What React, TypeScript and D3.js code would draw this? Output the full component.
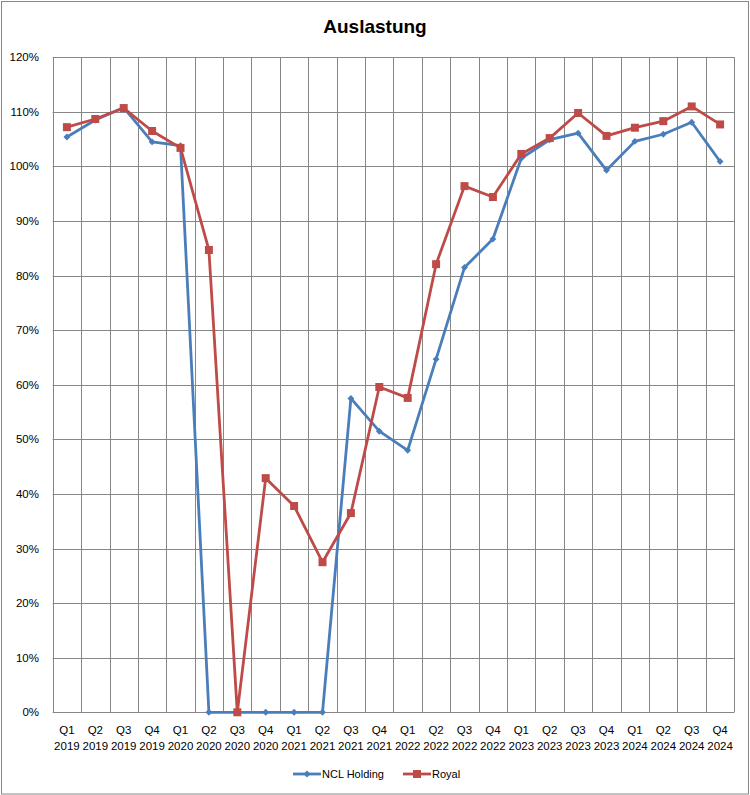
import React, { useEffect, useRef } from 'react';
import * as d3 from 'd3';

// quarters on the x axis
const quarters = [
  'Q1 2019', 'Q2 2019', 'Q3 2019', 'Q4 2019',
  'Q1 2020', 'Q2 2020', 'Q3 2020', 'Q4 2020',
  'Q1 2021', 'Q2 2021', 'Q3 2021', 'Q4 2021',
  'Q1 2022', 'Q2 2022', 'Q3 2022', 'Q4 2022',
  'Q1 2023', 'Q2 2023', 'Q3 2023', 'Q4 2023',
  'Q1 2024', 'Q2 2024', 'Q3 2024', 'Q4 2024',
];

// occupancy in percent
const nclValues = [
  105.4, 108.5, 110.8, 104.5, 103.8, 0, 0, 0, 0, 0, 57.5, 51.5,
  48.0, 64.7, 81.5, 86.7, 101.5, 104.9, 106.1, 99.3, 104.6, 105.9, 108.1, 100.9,
];
const royalValues = [
  107.2, 108.7, 110.7, 106.5, 103.4, 84.7, 0, 42.9, 37.8, 27.5, 36.5, 59.6,
  57.6, 82.1, 96.4, 94.4, 102.3, 105.2, 109.8, 105.6, 107.1, 108.3, 111.0, 107.7,
];

const yTicks = [0, 10, 20, 30, 40, 50, 60, 70, 80, 90, 100, 110, 120];

const W = 750;
const H = 795;
const margin = { left: 52.7, right: 734.3, top: 57.3, bottom: 712.3 };
const font = '"Liberation Sans", Arial, sans-serif';
const BLUE = '#4A7EBB';
const RED = '#BE4B48';
const GRID = '#868686';

export default function App() {
  const ref = useRef<SVGSVGElement>(null);

  useEffect(() => {
    document.body.style.margin = '0';
    const svg = d3.select(ref.current);
    svg.selectAll('*').remove();

    const x = d3.scaleBand<string>().domain(quarters).range([margin.left, margin.right]);
    const y = d3.scaleLinear().domain([0, 120]).range([margin.bottom, margin.top]);

    svg.append('rect')
      .attr('x', 1.5).attr('y', 1.5)
      .attr('width', W - 3).attr('height', H - 2.5)
      .attr('fill', '#fff').attr('stroke', GRID).attr('stroke-width', 1);

    svg.append('text')
      .attr('x', W / 2).attr('y', 33)
      .attr('text-anchor', 'middle')
      .attr('font-family', font).attr('font-weight', 'bold').attr('font-size', 19)
      .text('Auslastung');

    // grid
    const grid = svg.append('g').attr('stroke', GRID).attr('stroke-width', 1);
    yTicks.forEach((t) => {
      grid.append('line')
        .attr('x1', margin.left).attr('x2', margin.right)
        .attr('y1', Math.round(y(t)) + 0.5).attr('y2', Math.round(y(t)) + 0.5);
    });
    const edges = quarters.map((q) => x(q)!).concat([margin.right]);
    edges.forEach((e) => {
      grid.append('line')
        .attr('x1', Math.round(e) + 0.5).attr('x2', Math.round(e) + 0.5)
        .attr('y1', margin.top).attr('y2', margin.bottom);
    });

    // y labels
    svg.append('g').selectAll('text').data(yTicks).enter().append('text')
      .attr('x', 39).attr('y', (d) => y(d) + 4)
      .attr('text-anchor', 'end')
      .attr('font-family', font).attr('font-size', 11.5)
      .text((d) => `${d}%`);

    // x labels
    const xl = svg.append('g').attr('font-family', font).attr('font-size', 11.5).attr('text-anchor', 'middle');
    quarters.forEach((q) => {
      const [qq, yr] = q.split(' ');
      const cx = x(q)! + x.bandwidth() / 2;
      xl.append('text').attr('x', cx).attr('y', 734).text(qq);
      xl.append('text').attr('x', cx).attr('y', 750).text(yr);
    });

    const line = d3.line<number>()
      .x((_, i) => x(quarters[i])! + x.bandwidth() / 2)
      .y((d) => y(d));

    const drawSeries = (vals: number[], color: string, shape: 'diamond' | 'square') => {
      svg.append('path')
        .attr('d', line(vals)!)
        .attr('fill', 'none').attr('stroke', color).attr('stroke-width', 2.8)
        .attr('stroke-linejoin', 'round');
      const sym = d3.symbol()
        .type(shape === 'diamond' ? d3.symbolDiamond2 : d3.symbolSquare)
        .size(shape === 'diamond' ? 30 : 64);
      svg.append('g').selectAll('path').data(vals).enter().append('path')
        .attr('d', sym()!)
        .attr('transform', (d, i) => `translate(${x(quarters[i])! + x.bandwidth() / 2},${y(d)})`)
        .attr('fill', color);
    };

    drawSeries(nclValues, BLUE, 'diamond');
    drawSeries(royalValues, RED, 'square');

    // legend
    const legend = svg.append('g').attr('font-family', font).attr('font-size', 11);
    const items = [
      { name: 'NCL Holding', color: BLUE, shape: 'diamond', x0: 293 },
      { name: 'Royal', color: RED, shape: 'square', x0: 403 },
    ];
    items.forEach((it) => {
      legend.append('line')
        .attr('x1', it.x0).attr('x2', it.x0 + 28).attr('y1', 774).attr('y2', 774)
        .attr('stroke', it.color).attr('stroke-width', 2.8);
      const sym = d3.symbol()
        .type(it.shape === 'diamond' ? d3.symbolDiamond2 : d3.symbolSquare)
        .size(it.shape === 'diamond' ? 30 : 64);
      legend.append('path').attr('d', sym()!)
        .attr('transform', `translate(${it.x0 + 14},774)`).attr('fill', it.color);
      legend.append('text').attr('x', it.x0 + 29).attr('y', 778).text(it.name);
    });
  }, []);

  return <svg ref={ref} width={W} height={H} style={{ display: 'block' }} />;
}
